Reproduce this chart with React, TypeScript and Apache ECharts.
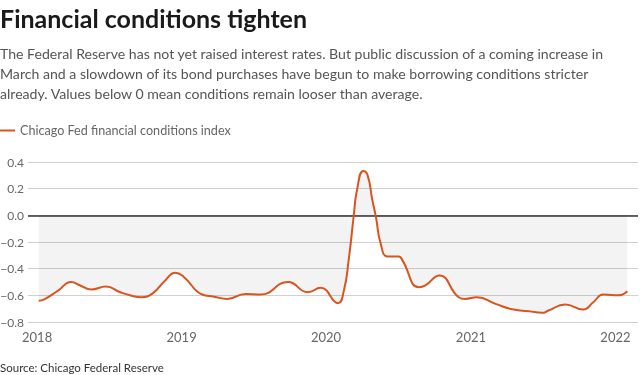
import React, { useEffect, useRef } from "react";
import * as echarts from "echarts";

const TITLE = "Financial conditions tighten";
const SUBTITLE_LINES = [
  "The Federal Reserve has not yet raised interest rates. But public discussion of a coming increase in",
  "March and a slowdown of its bond purchases have begun to make borrowing conditions stricter",
  "already. Values below 0 mean conditions remain looser than average.",
];
const SOURCE = "Source: Chicago Federal Reserve";
const SERIES_NAME = "Chicago Fed financial conditions index";

const dates = [
  "2018-01-05", "2018-01-19", "2018-02-23", "2018-03-28", "2018-04-20", "2018-05-18",
  "2018-06-24", "2018-07-30", "2018-08-24", "2018-09-21", "2018-10-20", "2018-11-20",
  "2018-12-16",
  "2019-01-06", "2019-02-22", "2019-03-24", "2019-04-26", "2019-06-12", "2019-07-19",
  "2019-09-27", "2019-11-16", "2019-12-18",
  "2020-01-31", "2020-02-15", "2020-02-27", "2020-03-11", "2020-03-19", "2020-04-04",
  "2020-04-15", "2020-04-27", "2020-05-06", "2020-05-18", "2020-06-04", "2020-07-03",
  "2020-07-12", "2020-08-22", "2020-09-08", "2020-10-13", "2020-12-01", "2020-12-17",
  "2021-01-16", "2021-03-04", "2021-04-19", "2021-05-27", "2021-06-30", "2021-07-16",
  "2021-08-27", "2021-10-12", "2021-11-06", "2021-12-01", "2021-12-22", "2022-01-08",
  "2022-01-31",
];
const values = [
  -0.64, -0.63, -0.565, -0.5, -0.526, -0.556,
  -0.534, -0.577, -0.6, -0.614, -0.585, -0.49,
  -0.43,
  -0.46, -0.594, -0.61, -0.627, -0.59, -0.594,
  -0.5, -0.577, -0.544,
  -0.659, -0.564, -0.338, 0.0, 0.188, 0.333,
  0.3, 0.113, -0.013, -0.213, -0.308, -0.308,
  -0.338, -0.539, -0.526, -0.451, -0.614, -0.627,
  -0.614, -0.664, -0.707, -0.719, -0.731, -0.714,
  -0.669, -0.707, -0.652, -0.594, -0.597, -0.6,
  -0.569,
];
const yearTicks = ["2018-01-01", "2019-01-01", "2020-01-01", "2021-01-01", "2022-01-01"];
const X_MIN = "2017-12-09";
const X_MAX = "2022-02-27";

const FONT = "Lato, 'Noto Sans', sans-serif";
const ORANGE = "#d9541e";

const ts = (d: string) => Date.parse(d + "T00:00:00Z");

export default function App() {
  const ref = useRef<HTMLDivElement>(null);
  useEffect(() => {
    if (!ref.current) return;
    const chart = echarts.init(ref.current, null, { renderer: "svg" });
    const fmtY = (v: number) =>
      (v < 0 ? "\u2212" : "") + Math.abs(v).toFixed(1);
    chart.setOption({
      animation: false,
      textStyle: { fontFamily: FONT },
      grid: {
        left: 28,
        right: 2,
        top: 162,
        bottom: 53,
        containLabel: false,
        outerBoundsMode: "none",
      },
      legend: {
        left: 0,
        top: 124,
        padding: 0,
        icon: "rect",
        itemWidth: 15,
        itemHeight: 2,
        itemGap: 10,
        textStyle: { fontFamily: FONT, fontSize: 12.6, color: "#666" },
        data: [SERIES_NAME],
      },
      xAxis: {
        type: "value",
        min: ts(X_MIN),
        max: ts(X_MAX),
        axisLine: { show: false },
        axisTick: { show: false },
        splitLine: { show: false },
        axisLabel: {
          customValues: yearTicks.map(ts),
          formatter: (v: number) => String(new Date(v).getUTCFullYear()),
          color: "#666",
          fontSize: 13,
          fontFamily: FONT,
          margin: 8,
          showMinLabel: true,
          showMaxLabel: true,
        },
      },
      yAxis: {
        type: "value",
        min: -0.8,
        max: 0.4,
        interval: 0.2,
        axisLine: { show: false },
        axisTick: { show: false },
        splitLine: { lineStyle: { color: "#d0d0d0", width: 1 } },
        axisLabel: {
          formatter: fmtY,
          color: "#666",
          fontSize: 12,
          fontFamily: FONT,
          margin: 4,
        },
      },
      series: [
        {
          name: SERIES_NAME,
          type: "line",
          data: dates.map((d, i) => [ts(d), values[i]]),
          showSymbol: false,
          smooth: 0.5,
          lineStyle: { color: ORANGE, width: 2 },
          itemStyle: { color: ORANGE },
          areaStyle: { color: "rgba(0,0,0,0.065)" },
          z: 3,
          markLine: {
            silent: true,
            symbol: "none",
            label: { show: false },
            lineStyle: { color: "#333", width: 1.5, type: "solid" },
            data: [{ yAxis: 0 }],
            z: 2,
          },
        },
      ],
      graphic: [
        {
          type: "text",
          left: 0,
          top: 5,
          style: {
            text: TITLE,
            font: `bold 25px ${FONT}`,
            fill: "#1a1a1a",
          },
        },
        {
          type: "text",
          left: 0,
          top: 43,
          style: {
            text: SUBTITLE_LINES.join("\n"),
            font: `14.1px ${FONT}`,
            lineHeight: 20,
            fill: "#555",
          },
        },
        {
          type: "text",
          left: 0,
          top: 361,
          style: {
            text: SOURCE,
            font: `11.5px ${FONT}`,
            fill: "#333",
          },
        },
      ],
    });
    return () => chart.dispose();
  }, []);
  return (
    <div
      ref={ref}
      style={{ position: "fixed", left: 0, top: 0, width: 640, height: 375 }}
    />
  );
}
